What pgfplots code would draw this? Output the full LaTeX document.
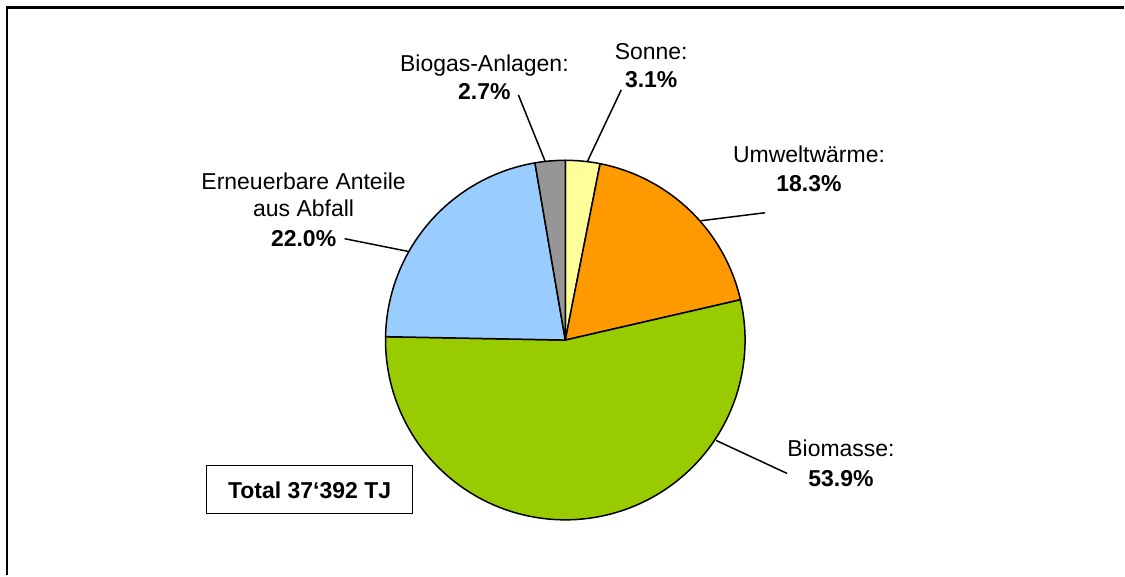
\documentclass[border=0pt]{standalone}
\usepackage{pgfplots}
\pgfplotsset{compat=1.18}
\usepackage{fontspec}
\setmainfont{Liberation Sans}
\definecolor{cSonne}{HTML}{FFFF99}
\definecolor{cUmwelt}{HTML}{FF9900}
\definecolor{cBio}{HTML}{99CC00}
\definecolor{cErn}{HTML}{99CCFF}
\definecolor{cGas}{HTML}{969696}
% shares in percent (clockwise from 12 o'clock)
\def\pSonne{3.1}
\def\pUmwelt{18.3}
\def\pBio{53.9}
\def\pErn{22.0}
\def\pGas{2.7}
\pgfmathsetmacro\aA{90}
\pgfmathsetmacro\aB{\aA-3.6*\pSonne}
\pgfmathsetmacro\aC{\aB-3.6*\pUmwelt}
\pgfmathsetmacro\aD{\aC-3.6*\pBio}
\pgfmathsetmacro\aE{\aD-3.6*\pErn}
\pgfmathsetmacro\aF{\aE-3.6*\pGas}
\def\cx{566}
\def\cy{235.5}
\def\R{180}
\begin{document}
\begin{tikzpicture}[font=\fontsize{11.5}{14}\selectfont]
\begin{axis}[x=0.5pt, y=0.5pt, xmin=0, xmax=1125, ymin=0, ymax=576,
  hide axis, clip=false, axis line style={draw=none}]
\path (axis cs:0,0) rectangle (axis cs:1125,576);
% frame (left and top edges visible)
\draw[line width=1.4pt] (axis cs:7,0) -- (axis cs:7,568.5) -- (axis cs:1125,568.5);
% pie slices
\addplot[fill=cSonne, draw=black, line width=0.75pt, domain=\aB:\aA, samples=30]
  ({\cx+\R*cos(x)},{\cy+\R*sin(x)}) -- (axis cs:\cx,\cy) -- cycle;
\addplot[fill=cUmwelt, draw=black, line width=0.75pt, domain=\aC:\aB, samples=60]
  ({\cx+\R*cos(x)},{\cy+\R*sin(x)}) -- (axis cs:\cx,\cy) -- cycle;
\addplot[fill=cBio, draw=black, line width=0.75pt, domain=\aD:\aC, samples=120]
  ({\cx+\R*cos(x)},{\cy+\R*sin(x)}) -- (axis cs:\cx,\cy) -- cycle;
\addplot[fill=cErn, draw=black, line width=0.75pt, domain=\aE:\aD, samples=60]
  ({\cx+\R*cos(x)},{\cy+\R*sin(x)}) -- (axis cs:\cx,\cy) -- cycle;
\addplot[fill=cGas, draw=black, line width=0.75pt, domain=\aF:\aE, samples=30]
  ({\cx+\R*cos(x)},{\cy+\R*sin(x)}) -- (axis cs:\cx,\cy) -- cycle;
% leader lines
\draw[line width=0.75pt] (axis cs:588,414) -- (axis cs:622,486);
\draw[line width=0.75pt] (axis cs:546,414) -- (axis cs:519,481);
\draw[line width=0.75pt] (axis cs:702,355) -- (axis cs:766,363);
\draw[line width=0.75pt] (axis cs:410,324) -- (axis cs:345,337);
\draw[line width=0.75pt] (axis cs:717,135) -- (axis cs:788,102);
% labels
\node[anchor=base] at (axis cs:652,516) {Sonne:};
\node[anchor=base] at (axis cs:652,488) {\bfseries 3.1\%};
\node[anchor=base] at (axis cs:485,504) {Biogas-Anlagen:};
\node[anchor=base] at (axis cs:485,476) {\bfseries 2.7\%};
\node[anchor=base] at (axis cs:810,413) {Umweltwärme:};
\node[anchor=base] at (axis cs:810,384) {\bfseries 18.3\%};
\node[anchor=base] at (axis cs:304,386) {Erneuerbare Anteile};
\node[anchor=base] at (axis cs:304,359) {aus Abfall};
\node[anchor=base] at (axis cs:304,329) {\bfseries 22.0\%};
\node[anchor=base] at (axis cs:842,119) {Biomasse:};
\node[anchor=base] at (axis cs:842,89) {\bfseries 53.9\%};
% total box
\draw[line width=0.75pt] (axis cs:207,62) rectangle (axis cs:413,110);
\node[anchor=base] at (axis cs:310,77) {\bfseries Total 37‘392 TJ};
\end{axis}
\end{tikzpicture}
\end{document}
